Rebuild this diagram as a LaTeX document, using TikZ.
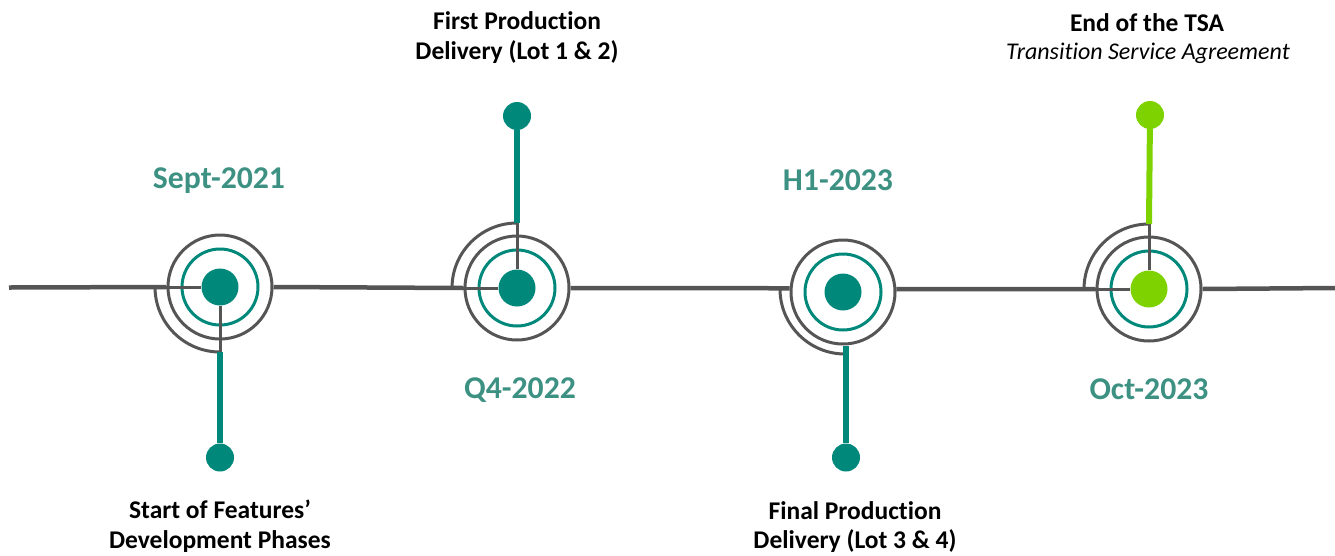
\documentclass[tikz,border=0pt]{standalone}
\usepackage{fontspec}
\setmainfont{Carlito}[Ligatures=NoCommon]
\definecolor{tealdk}{RGB}{0,137,123}
\definecolor{tealtx}{RGB}{61,145,130}
\definecolor{limegr}{RGB}{125,210,0}
\definecolor{axisgray}{RGB}{85,85,85}
\begin{document}
\begin{tikzpicture}[x=1pt,y=-1pt,
  axis/.style={draw=axisgray, line width=4.5pt},
  link/.style={draw=axisgray, line width=3pt},
  outerring/.style={circle, draw=axisgray, line width=3pt, minimum size=104pt, inner sep=0pt},
  innerring/.style={circle, draw=tealdk, line width=3pt, minimum size=76pt, inner sep=0pt},
  core/.style={circle, fill=#1, minimum size=37pt, inner sep=0pt},
  tip/.style={circle, fill=#1, minimum size=28pt, inner sep=0pt},
  stem/.style={draw=#1, line width=6pt},
  datelabel/.style={text=tealtx, font=\fontsize{31.7}{36}\selectfont\bfseries, anchor=base, inner sep=0pt},
  caption/.style={font=\fontsize{25.5}{30}\selectfont\bfseries, anchor=base, inner sep=0pt},
  subcaption/.style={font=\fontsize{24}{29}\selectfont\itshape, anchor=base, inner sep=0pt},
]
\useasboundingbox (0,0) rectangle (1335,555);

% ---- milestone rings ----
\foreach \n/\cx/\cy/\col in {1/220/287/tealdk, 2/517/288/tealdk, 3/843/292/tealdk, 4/1149/289/limegr}{
  \node[outerring] (o\n) at (\cx,\cy) {};
  \node[innerring] (i\n) at (\cx,\cy) {};
  \node[core=\col] (d\n) at (\cx,\cy) {};
}

% ---- stem end dots ----
\node[tip=tealdk] (t1) at (220,457.5) {};
\node[tip=tealdk] (t2) at (517,116) {};
\node[tip=tealdk] (t3) at (846,457.5) {};
\node[tip=limegr] (t4) at (1150,115) {};

% ---- timeline ----
\coordinate (L0) at (9,287.5);
\coordinate (R0) at (1335,288);
\draw[axis] (L0) -- (o1.west);
\draw[axis] (o1.east) -- (o2.west);
\draw[axis] (o2.east) -- (o3.176);
\draw[axis] (o3.3) -- (o4.west);
\draw[axis] (o4.east) -- (R0);

% ---- milestone 1: quarter arc below, stem down ----
\coordinate (a1s) at (155,287);
\coordinate (a1e) at (220,352);
\draw[link] (a1s) arc[start angle=180, end angle=90, radius=65];
\draw[link] (a1s) -- (d1.west);
\draw[link] (d1.south) -- (a1e);
\draw[stem=tealdk] (a1e) -- (t1);

% ---- milestone 2: quarter arc above, stem up ----
\coordinate (a2s) at (452,288);
\coordinate (a2e) at (517,223);
\draw[link] (a2s) arc[start angle=180, end angle=270, radius=65];
\draw[link] (a2s) -- (d2.west);
\draw[link] (d2.north) -- (a2e);
\draw[stem=tealdk] (a2e) -- (t2);

% ---- milestone 3: quarter arc below, stem from ring ----
\coordinate (a3s) at (780,289);
\draw[link] (a3s) arc[start angle=180, end angle=90, radius=65];
\draw[stem=tealdk] (o3.south -| t3) -- (t3);

% ---- milestone 4: quarter arc above, stem up ----
\coordinate (a4s) at (1084,289);
\coordinate (a4e) at (1149,224);
\draw[link] (a4s) arc[start angle=180, end angle=270, radius=65];
\draw[link] (a4s) -- (d4.west);
\draw[link] (d4.north) -- (a4e);
\draw[stem=limegr] (a4e) -- (t4);

% ---- dates ----
\node[datelabel] (dl1) at (219,188.3) {Sept-2021};
\node[datelabel] (dl2) at (520,398) {Q4-2022};
\node[datelabel] (dl3) at (838,190) {H1-2023};
\node[datelabel] (dl4) at (1149,399) {Oct-2023};

% ---- captions ----
\node[caption] (c2a) at (517,29.3) {First Production};
\node[caption] (c2b) at (517,59.3) {Delivery (Lot 1 \& 2)};
\node[caption] (c4a) at (1147,31.7) {End of the TSA};
\node[subcaption] (c4b) at (1148,59.3) {Transition Service Agreement};
\node[caption] (c1a) at (220,518.5) {Start of Features’};
\node[caption] (c1b) at (220,548) {Development Phases};
\node[caption] (c3a) at (855,519) {Final Production};
\node[caption] (c3b) at (855,548) {Delivery (Lot 3 \& 4)};
\end{tikzpicture}
\end{document}
